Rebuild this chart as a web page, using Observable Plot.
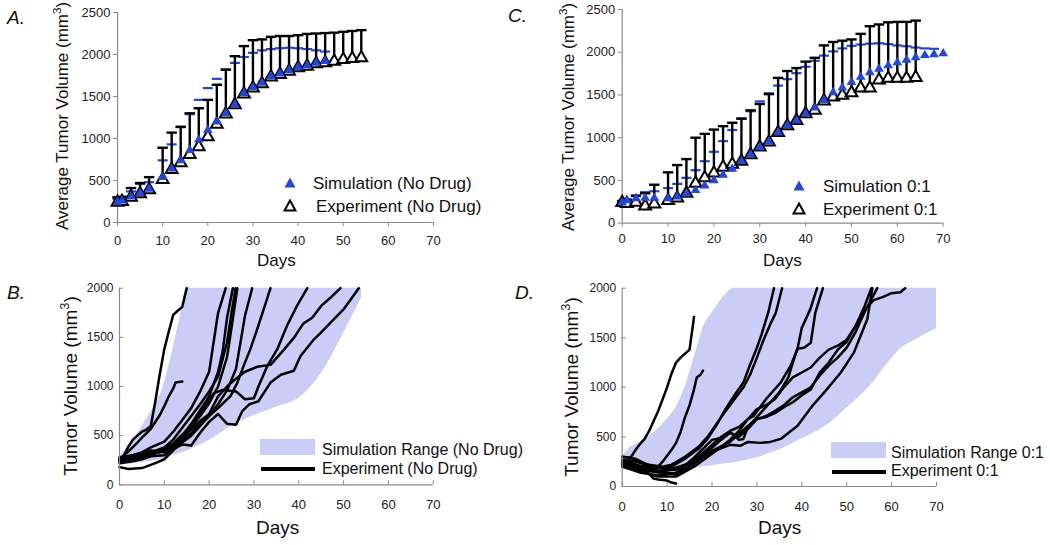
<!DOCTYPE html>
<html><head><meta charset="utf-8">
<script src="https://cdn.jsdelivr.net/npm/d3@7"></script>
<script src="https://cdn.jsdelivr.net/npm/@observablehq/plot@0.6"></script>
<style>
body{margin:0;background:#fff;font-family:"Liberation Sans",Arial,sans-serif;color:#111;}
#root{position:relative;width:1050px;height:545px;overflow:hidden;background:#fff;}
.plot{position:absolute;}
.t{position:absolute;white-space:nowrap;line-height:1;}
.yt{position:absolute;white-space:nowrap;line-height:1;transform:translate(-50%,-50%) rotate(-90deg);}
.pl{position:absolute;font-style:italic;font-size:19px;line-height:1;}
sup{font-size:0.68em;line-height:0;vertical-align:0.55em;}
</style></head><body><div id="root"></div>
<script>
// ---------- shared ticks ----------
const xTicks = [0,10,20,30,40,50,60,70];
const yTicksAvg = [0,500,1000,1500,2000,2500];
const yTicksInd = [0,500,1000,1500,2000];

// ---------- Panel A (No Drug averages) ----------
const expDaysA  = [0,1,3,5,7,10,12,14,16,18,20,22,24,26,28,30,32,34,36,38,40,42,44,46,48,50,52,54];
const expMeanA  = [240,250,300,340,390,510,630,710,810,900,1020,1170,1290,1400,1530,1600,1650,1730,1760,1800,1840,1860,1890,1900,1920,1940,1950,1960];
const expUpperA = [300,305,410,470,540,890,1070,1140,1300,1360,1460,1640,1820,1980,2100,2170,2180,2210,2220,2220,2230,2245,2250,2255,2260,2270,2280,2290];
const simDaysA  = [0,1,3,5,7,10,12,14,16,18,20,22,24,26,28,30,32,34,36,38,40,42,44,46];
const simMeanA  = [240,260,310,350,400,540,640,740,860,985,1100,1200,1300,1400,1540,1610,1660,1740,1770,1810,1850,1870,1900,1920];
const simUpperA = [280,285,370,460,480,740,930,1135,1290,1460,1600,1710,1820,1900,1970,2020,2050,2065,2075,2080,2075,2065,2050,2035];

// ---------- Panel C (0:1 averages) ----------
const expDaysC  = [0,1,3,5,7,10,12,14,16,18,20,22,24,26,28,30,32,34,36,38,40,42,44,46,48,50,52,54,56,58,60,62,64];
const expMeanC  = [240,230,245,200,225,265,295,350,465,530,585,655,690,725,800,890,950,1060,1140,1200,1280,1320,1430,1475,1495,1525,1580,1580,1675,1695,1695,1695,1705];
const expUpperC = [260,270,320,350,450,595,680,750,1000,1045,1095,1135,1175,1225,1320,1395,1510,1700,1780,1815,1890,1935,2080,2120,2135,2150,2215,2305,2325,2350,2355,2355,2370];
const simDaysC  = [0,1,3,5,7,10,12,14,16,18,20,22,24,26,28,30,32,34,36,38,40,42,44,46,48,50,52,54,56,58,60,62,64,66,68,70];
const simMeanC  = [240,265,290,295,295,290,310,345,385,440,500,565,635,725,800,885,950,1060,1145,1200,1280,1350,1440,1530,1585,1650,1710,1765,1805,1845,1880,1910,1940,1965,1975,1985];
const simUpperC = [255,281,324,363,374,410,460,530,620,725,835,960,1090,1220,1310,1425,1520,1610,1685,1755,1830,1900,1960,2010,2045,2075,2090,2100,2105,2095,2080,2070,2055,2045,2040,null];

// ---------- Panel B (No Drug individual) ----------
const bandDaysB = [0,3,6.5,10,12,13.6,15,20,25,30,35,40,45,50,54];
const bandLowB  = [200,215,235,270,300,320,345,450,595,705,790,880,1130,1540,1900];
const bandHighB = [280,460,700,1030,1400,1720,2000,2000,2000,2000,2000,2000,2000,2000,2000];
const b1  = [[0,230],[1,300],[2,390],[3,460],[4,500],[5,540],[6,560],[7,600],[8,850],[9,1130],[10,1380],[11,1560],[12,1730],[13,1770],[14,1810],[15,2000]];
const b2  = [[0,260],[2,340],[4,430],[5,480],[7,570],[9,710],[10,800],[11,900],[12,980],[12.5,1040],[14,1050]];
const b3  = [[0,270],[3,300],[5,330],[7,380],[10,440],[12,540],[14,660],[16,780],[18,950],[20,1150],[21,1450],[22,1750],[23.7,2000]];
const b4  = [[0,250],[3,280],[5,300],[7,320],[10,340],[12,400],[14,500],[16,620],[18,760],[20,900],[22,1150],[23,1350],[24,1700],[25.3,2000]];
const b5  = [[0,240],[3,260],[5,290],[7,330],[10,380],[12,460],[14,580],[16,700],[18,820],[20,950],[22,1100],[24,1450],[25,1750],[25.9,2000]];
const b6  = [[0,280],[3,300],[5,320],[7,350],[10,330],[12,400],[14,480],[16,580],[18,700],[20,830],[22,1000],[24,1300],[25,1600],[26.3,2000]];
const b7  = [[0,220],[3,240],[5,260],[7,290],[10,300],[12,380],[14,430],[16,500],[18,600],[20,700],[22,820],[24,960],[26,1180],[27,1450],[28,1720],[29.6,2000]];
const b8  = [[0,260],[3,270],[5,280],[8,330],[10,350],[12,400],[14,450],[16,520],[18,620],[20,700],[22,780],[24.8,905],[26.3,1040],[27.7,1210],[29.2,1380],[30.7,1580],[32.2,1790],[33.7,2000]];
const b9  = [[0,240],[4,280],[8,320],[12,420],[16,600],[19,800],[21,930],[23,965],[26,950],[28,870],[30,880],[31,1000],[33,1210],[35.2,1380],[37.4,1620],[39.6,1820],[41.9,2000]];
const b10 = [[0,180],[2,160],[5,170],[8,220],[10,260],[12,350],[14,460],[16,560],[18,650],[20,720],[22,900],[24,1000],[26,1080],[28,1150],[30.7,1200],[33.7,1220],[36.6,1370],[39,1500],[41,1640],[43,1700],[45,1820],[47,1900],[49.3,2000]];
const b11 = [[0,260],[3,280],[6,300],[9,330],[12,360],[14,410],[16,400],[18,530],[20,640],[22,720],[24,620],[26,610],[27.4,750],[29,820],[31,850],[33.7,1040],[36,1120],[38.9,1160],[40.4,1310],[43.4,1480],[45,1550],[47.1,1650],[50.1,1790],[53.4,2000]];
const curvesB = [b1,b2,b3,b4,b5,b6,b7,b8,b9,b10,b11];

// ---------- Panel D (0:1 individual) ----------
const bandDaysD = [0,2,4,7,10,12,14,16,17,18,20,22,25,30,35,40,45,50,55,60,62,65,70];
const bandLowD  = [180,165,150,145,140,150,165,180,190,200,210,225,240,290,370,480,600,790,1000,1290,1390,1470,1590];
const bandHighD = [300,400,450,540,680,800,1000,1300,1450,1600,1750,1880,2000,2000,2000,2000,2000,2000,2000,2000,2000,2000,2000];
const d1  = [[0,210],[1,220],[2,300],[3,370],[4,430],[5,480],[6,560],[7,660],[8,760],[9,880],[10,1000],[11,1140],[12,1250],[13,1300],[14,1340],[15,1380],[16,1710]];
const d2  = [[0,300],[2,290],[4,240],[6,200],[7,190],[8,200],[9,250],[10,310],[11,370],[12,440],[13,550],[14,700],[15,820],[16,980],[16.6,1100],[17.5,1130],[18,1170]];
const d3  = [[0,250],[2,200],[4,160],[6,130],[7,80],[8,70],[10,60],[11,40],[12,30]];
const d4  = [[0,300],[3,280],[6,210],[9,180],[11,200],[14,280],[17,380],[19,480],[21,620],[23,780],[25,920],[27,1050],[28.5,1230],[30,1400],[31,1530],[32.5,1750],[33.8,2000]];
const d5  = [[0,270],[3,250],[6,220],[9,200],[11,220],[14,300],[17,400],[19,500],[21,630],[23,760],[25,880],[27,1000],[28.5,1130],[30,1300],[31.5,1480],[33,1640],[34.2,1750],[35.6,2000]];
const d6  = [[0,230],[4,180],[8,160],[12,170],[16,260],[20,420],[22,500],[24,560],[26,600],[28,680],[29.3,713],[32,880],[35.3,1049],[37.5,1217],[39,1380],[40,1600],[41.9,1789],[43.4,2000]];
const d7  = [[0,200],[4,140],[8,110],[12,140],[16,290],[20,470],[22,490],[24,550],[26,470],[27,480],[28,600],[30,700],[33,850],[35,950],[37,1100],[38,1250],[39,1390],[40.5,1400],[42,1450],[43,1750],[44.7,2000]];
const d8  = [[0,230],[4,170],[8,140],[12,130],[16,240],[20,350],[24,420],[26.3,410],[28,450],[30.8,440],[33,450],[35.3,480],[39,610],[42.3,810],[45,950],[48.7,1150],[51.6,1350],[53.1,1520],[54.6,1690],[55.7,2000]];
const d9  = [[0,260],[4,210],[8,190],[12,190],[16,250],[20,390],[22,470],[24,540],[26,500],[28,580],[30,680],[32,710],[34,760],[36,820],[38,900],[40,950],[42,1000],[44,1120],[46,1220],[48,1300],[50,1400],[52,1560],[54,1760],[56.8,2000]];
const d10 = [[0,250],[4,200],[8,160],[12,120],[16,230],[20,360],[24,450],[28,610],[30,680],[32,700],[34,740],[36,800],[38,850],[40,920],[42,980],[44,1150],[46,1250],[48,1380],[50,1460],[52,1620],[54,1780],[56,1880],[58,1910],[60,1950],[62,1960],[63,2000]];
const d11 = [[0,220],[4,150],[8,100],[12,100],[16,200],[20,330],[24,470],[26,560],[28,680],[30,780],[32,820],[34,880],[36,1000],[38,1100],[40,1150],[42,1200],[44,1300],[46,1380],[48,1420],[50,1480],[52,1620],[54,1820],[55.5,2000]];
const curvesD = [d1,d2,d3,d4,d5,d6,d7,d8,d9,d10,d11];

// ---------- styling constants ----------
const BLUE = "#2347dc";
const LAV = "#cccdf6";
const AXIS = "#8a8a8a";
const FONT = "'Liberation Sans', Arial, sans-serif";
const fmt = d => String(d);
const capSymbol = {draw(ctx, size){ const r = Math.sqrt(size/Math.PI); ctx.moveTo(-r,0); ctx.lineTo(r,0); }};

function avgPanel(o){
  const exp = o.expDays.map((d,i)=>({day:d, mean:o.expMean[i], upper:o.expUpper[i]}));
  const sim = o.simDays.map((d,i)=>({day:d, mean:o.simMean[i], upper:o.simUpper[i]}));
  const simCaps = sim.filter(d=>d.upper!=null);
  return Plot.plot({
    width:o.width, height:o.height,
    marginLeft:o.ml, marginRight:o.mr, marginTop:o.mt, marginBottom:o.mb,
    x:{domain:[0,70]}, y:{domain:[0,2500]},
    style:{fontFamily:FONT, background:"transparent", overflow:"visible", color:"#222"},
    marks:[
      Plot.ruleY([0],{stroke:AXIS, strokeWidth:1.2}),
      Plot.ruleX([0],{stroke:AXIS, strokeWidth:1.2}),
      Plot.axisX(xTicks,{tickSize:4, tickPadding:o.xpad, fontSize:13, stroke:AXIS, fill:"#222", label:null, tickFormat:fmt}),
      Plot.axisY(yTicksAvg,{tickSize:4, tickPadding:3, fontSize:13, stroke:AXIS, fill:"#222", label:null, tickFormat:fmt}),
      Plot.dot(simCaps,{x:"day", y:"upper", symbol:capSymbol, r:5, stroke:BLUE, strokeWidth:2.2}),
      Plot.ruleX(exp,{x:"day", y1:"mean", y2:"upper", stroke:"#000", strokeWidth:2.4}),
      Plot.dot(exp,{x:"day", y:"upper", symbol:capSymbol, r:5.2, stroke:"#000", strokeWidth:2.4}),
      Plot.dot(exp,{x:"day", y:"mean", symbol:"triangle", r:4.4, fill:"#fff", stroke:"#000", strokeWidth:2}),
      Plot.dot(sim,{x:"day", y:"mean", symbol:"triangle", r:3.6, fill:BLUE})
    ]
  });
}

function rangePanel(o){
  const band = o.bandDays.map((d,i)=>({day:d, low:o.bandLow[i], high:o.bandHigh[i]}));
  const rows = o.curves.flatMap((c,k)=>c.map(([day,v])=>({id:k, day, v})));
  return Plot.plot({
    width:o.width, height:o.height,
    marginLeft:o.ml, marginRight:o.mr, marginTop:o.mt, marginBottom:o.mb,
    x:{domain:[0,70]}, y:{domain:[0,2000]},
    style:{fontFamily:FONT, background:"transparent", overflow:"visible", color:"#222"},
    marks:[
      Plot.areaY(band,{x:"day", y1:"low", y2:"high", fill:LAV, curve:"monotone-x"}),
      Plot.line(rows,{x:"day", y:"v", z:"id", stroke:"#000", strokeWidth:2.5, strokeLinejoin:"round", strokeLinecap:"round"}),
      Plot.ruleY([0],{stroke:AXIS, strokeWidth:1.2}),
      Plot.ruleX([0],{stroke:AXIS, strokeWidth:1.2}),
      Plot.axisX(xTicks,{tickSize:-4, tickPadding:19, fontSize:13, stroke:AXIS, fill:"#222", label:null, tickFormat:fmt}),
      Plot.axisY(yTicksInd,{tickSize:-4, tickPadding:10, fontSize:12, stroke:AXIS, fill:"#222", label:null, tickFormat:fmt})
    ]
  });
}

const root = document.getElementById("root");
function place(el, left, top){ el.classList.add("plot"); el.style.left = left+"px"; el.style.top = top+"px"; root.appendChild(el); }

place(avgPanel({expDays:expDaysA, expMean:expMeanA, expUpper:expUpperA, simDays:simDaysA, simMean:simMeanA, simUpper:simUpperA,
  width:460, height:270, ml:117, mr:27, mt:12, mb:48, xpad:9}), 0, 0);
place(avgPanel({expDays:expDaysC, expMean:expMeanC, expUpper:expUpperC, simDays:simDaysC, simMean:simMeanC, simUpper:simUpperC,
  width:460, height:270, ml:101.7, mr:37.3, mt:9, mb:47.3, xpad:7}), 520, 0);
place(rangePanel({bandDays:bandDaysB, bandLow:bandLowB, bandHigh:bandHighB, curves:curvesB,
  width:460, height:275, ml:119, mr:27.3, mt:17.7, mb:60.7}), 0, 270);
place(rangePanel({bandDays:bandDaysD, bandLow:bandLowD, bandHigh:bandHighD, curves:curvesD,
  width:460, height:275, ml:101.7, mr:44, mt:17.7, mb:59}), 520, 270);

// ---------- text overlays ----------
function txt(cls, html, css){ const d = document.createElement("div"); d.className = cls; d.innerHTML = html; Object.assign(d.style, css); root.appendChild(d); return d; }
// panel letters
txt("pl","A.",{left:"7px", top:"8px"});
txt("pl","B.",{left:"7px", top:"283px"});
txt("pl","C.",{left:"508px", top:"6px"});
txt("pl","D.",{left:"515px", top:"283px"});
// y titles
txt("yt","Average Tumor Volume (mm<sup>3</sup>)",{left:"62px", top:"116px", fontSize:"17px"});
txt("yt","Average Tumor Volume (mm<sup>3</sup>)",{left:"568px", top:"117px", fontSize:"17px"});
txt("yt","Tumor Volume (mm<sup>3</sup>)",{left:"70px", top:"386px", fontSize:"19px"});
txt("yt","Tumor Volume (mm<sup>3</sup>)",{left:"571px", top:"387px", fontSize:"19px"});
// x titles
txt("t","Days",{left:"257px", top:"252px", fontSize:"17px"});
txt("t","Days",{left:"763px", top:"252px", fontSize:"17px"});
txt("t","Days",{left:"256px", top:"518px", fontSize:"19px"});
txt("t","Days",{left:"758px", top:"518px", fontSize:"19px"});

// legends A & C (triangle swatches)
function tri(fill, stroke){ return `<svg width="14" height="13" style="position:absolute;left:0;top:0"><path d="M7,1.5 L12.5,11.5 L1.5,11.5 Z" fill="${fill}" stroke="${stroke}" stroke-width="${stroke==='none'?0:2}" stroke-linejoin="miter"/></svg>`; }
function swatch(left, top, inner){ return txt("t", inner, {left:left+"px", top:top+"px", width:"14px", height:"13px"}); }
swatch(283,176, tri(BLUE,"none"));
txt("t","Simulation (No Drug)",{left:"313px", top:"175px", fontSize:"17px"});
swatch(283,199, tri("#fff","#000"));
txt("t","Experiment (No Drug)",{left:"316px", top:"198px", fontSize:"17px"});
swatch(792,179, tri(BLUE,"none"));
txt("t","Simulation 0:1",{left:"823px", top:"178px", fontSize:"17px"});
swatch(792,202, tri("#fff","#000"));
txt("t","Experiment 0:1",{left:"823px", top:"201px", fontSize:"17px"});

// legends B & D
function boxLine(left, top){
  const r = document.createElement("div"); Object.assign(r.style,{position:"absolute", left:left+"px", top:top+"px", width:"55px", height:"16px", background:LAV}); root.appendChild(r);
  const l = document.createElement("div"); Object.assign(l.style,{position:"absolute", left:(left+1)+"px", top:(top+28)+"px", width:"54px", height:"4px", background:"#000"}); root.appendChild(l);
}
boxLine(260,439);
txt("t","Simulation Range (No Drug)",{left:"322px", top:"442px", fontSize:"16px"});
txt("t","Experiment (No Drug)",{left:"322px", top:"461px", fontSize:"16px"});
boxLine(831,442);
txt("t","Simulation Range 0:1",{left:"891px", top:"445px", fontSize:"16px"});
txt("t","Experiment 0:1",{left:"891px", top:"463px", fontSize:"16px"});
</script></body></html>
